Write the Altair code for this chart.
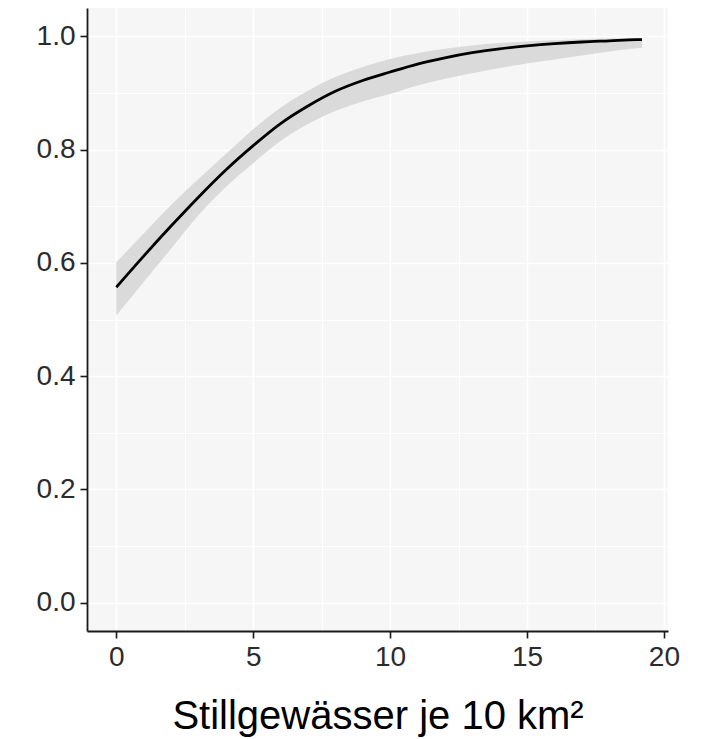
import altair as alt
import pandas as pd

# fitted curve and confidence band
x_vals = [0, 1, 2, 3, 4, 5, 6, 7, 8, 9, 10, 11, 12, 13, 14, 15, 16, 17, 18, 19, 19.2]
fit = [0.557, 0.612, 0.665, 0.716, 0.764, 0.807, 0.846, 0.877, 0.903, 0.922, 0.937,
       0.951, 0.962, 0.971, 0.978, 0.983, 0.987, 0.990, 0.992, 0.994, 0.994]
upper = [0.601, 0.652, 0.702, 0.748, 0.792, 0.836, 0.874, 0.904, 0.928, 0.946, 0.960,
         0.970, 0.978, 0.984, 0.988, 0.991, 0.993, 0.995, 0.996, 0.997, 0.997]
lower = [0.507, 0.566, 0.625, 0.684, 0.734, 0.776, 0.815, 0.845, 0.868, 0.885, 0.898,
         0.913, 0.925, 0.935, 0.944, 0.952, 0.959, 0.966, 0.973, 0.979, 0.980]

# tick positions (major ones labelled, minor ones only as grid lines)
x_grid = [0, 2.5, 5, 7.5, 10, 12.5, 15, 17.5, 20]
y_grid = [0.0, 0.1, 0.2, 0.3, 0.4, 0.5, 0.6, 0.7, 0.8, 0.9, 1.0]

W, H = 581, 623
xdom = [-1.07, 20.15]
ydom = [-0.05, 1.05]

df = pd.DataFrame({"x": x_vals, "fit": fit, "lo": lower, "hi": upper})

xscale = alt.Scale(domain=xdom, nice=False, zero=False)
yscale = alt.Scale(domain=ydom, nice=False, zero=False)

x_minor = "datum.value % 5 != 0"
y_minor = "round(datum.value * 10) % 2 != 0"

xaxis = alt.Axis(
    values=x_grid, title="Stillgewässer je 10 km²", format="d",
    grid=True, gridColor="white",
    gridWidth={"condition": {"test": x_minor, "value": 1.0}, "value": 1.6},
    tickOpacity={"condition": {"test": x_minor, "value": 0}, "value": 1},
    labelExpr="datum.value % 5 == 0 ? datum.label : ''",
    zindex=0)
yaxis = alt.Axis(
    values=y_grid, title=None, format=".1f",
    grid=True, gridColor="white",
    gridWidth={"condition": {"test": y_minor, "value": 1.0}, "value": 1.6},
    tickOpacity={"condition": {"test": y_minor, "value": 0}, "value": 1},
    labelExpr="round(datum.value * 10) % 2 == 0 ? datum.label : ''",
    zindex=0)

band = alt.Chart(df).mark_area(color="#dadada", opacity=1, interpolate="monotone").encode(
    x=alt.X("x:Q", scale=xscale, axis=xaxis),
    y=alt.Y("lo:Q", scale=yscale, axis=yaxis),
    y2="hi:Q")

line = alt.Chart(df).mark_line(color="black", strokeWidth=2.8, interpolate="monotone").encode(
    x=alt.X("x:Q", scale=xscale, axis=xaxis),
    y=alt.Y("fit:Q", scale=yscale, axis=yaxis))

chart = alt.layer(band, line).properties(
    width=W, height=H,
    autosize=alt.AutoSizeParams(type="none"),
    padding={"left": 79, "top": 0, "right": 30, "bottom": 110},
).configure_view(fill="#f6f6f6", stroke=None).configure_axis(
    domainColor="#1a1a1a", domainWidth=1.8,
    tickColor="#1a1a1a", tickWidth=1.6, tickSize=7,
    labelFont="Liberation Sans", labelFontSize=28, labelColor="#2b2b2b",
    labelPadding=5,
    titleFont="Liberation Sans", titleFontSize=40, titleColor="black",
    titleFontWeight="normal", titlePadding=25,
)

chart.save("out.html", embed_options={"renderer": "svg", "actions": False})
